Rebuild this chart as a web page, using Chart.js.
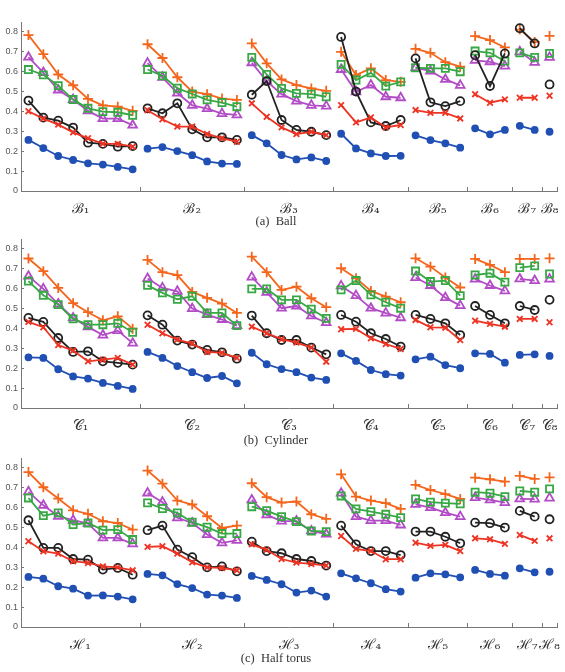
<!DOCTYPE html>
<html>
<head>
<meta charset="utf-8">
<script src="https://cdn.jsdelivr.net/npm/chart.js@4.4.1/dist/chart.umd.min.js"></script>
<style>
  html, body { margin: 0; padding: 0; background: #fff; }
  #page { position: relative; width: 565px; height: 672px; overflow: hidden; }
  .panel { position: absolute; left: 0; }
  .caption {
    position: absolute; left: 176px; width: 200px; text-align: center;
    font: 12.5px "Liberation Serif", serif; color: #333;
  }
</style>
</head>
<body>
<div id="page">
  <canvas id="ball" class="panel" width="565" height="205" style="top:10px"></canvas>
  <div class="caption" style="top:214px">(a)&nbsp;&nbsp;Ball</div>
  <canvas id="cylinder" class="panel" width="565" height="205" style="top:227px"></canvas>
  <div class="caption" style="top:433px">(b)&nbsp;&nbsp;Cylinder</div>
  <canvas id="torus" class="panel" width="565" height="205" style="top:446px"></canvas>
  <div class="caption" style="top:651px">(c)&nbsp;&nbsp;Half torus</div>
</div>
<script>
const groupSizes = [8, 7, 6, 5, 4, 3, 2, 1];
const yTicks = [0, 0.1, 0.2, 0.3, 0.4, 0.5, 0.6, 0.7, 0.8];

const ballLabels = ["ℬ₁", "ℬ₂", "ℬ₃", "ℬ₄", "ℬ₅", "ℬ₆", "ℬ₇", "ℬ₈"];
const cylinderLabels = ["𝒞₁", "𝒞₂", "𝒞₃", "𝒞₄", "𝒞₅", "𝒞₆", "𝒞₇", "𝒞₈"];
const torusLabels = ["ℋ₁", "ℋ₂", "ℋ₃", "ℋ₄", "ℋ₅", "ℋ₆", "ℋ₇", "ℋ₈"];

// (a) Ball
const ballPlus = [
  [0.784, 0.688, 0.586, 0.532, 0.463, 0.431, 0.424, 0.403],
  [0.738, 0.669, 0.572, 0.500, 0.487, 0.465, 0.458],
  [0.742, 0.642, 0.561, 0.533, 0.516, 0.504],
  [0.700, 0.583, 0.617, 0.558, 0.549],
  [0.715, 0.695, 0.648, 0.625],
  [0.779, 0.759, 0.722],
  [0.812, 0.750],
  [0.780],
];
const ballTriangle = [
  [0.673, 0.596, 0.508, 0.460, 0.403, 0.364, 0.364, 0.331],
  [0.643, 0.572, 0.492, 0.431, 0.414, 0.389, 0.383],
  [0.645, 0.553, 0.487, 0.452, 0.431, 0.427],
  [0.611, 0.499, 0.533, 0.474, 0.469],
  [0.620, 0.603, 0.561, 0.531],
  [0.657, 0.650, 0.628],
  [0.700, 0.647],
  [0.672],
];
const ballSquare = [
  [0.611, 0.584, 0.530, 0.460, 0.416, 0.399, 0.396, 0.381],
  [0.611, 0.579, 0.517, 0.488, 0.458, 0.445, 0.424],
  [0.672, 0.586, 0.516, 0.491, 0.487, 0.474],
  [0.637, 0.558, 0.594, 0.528, 0.549],
  [0.620, 0.617, 0.617, 0.600],
  [0.704, 0.695, 0.653],
  [0.695, 0.672],
  [0.692],
];
const ballCircle = [
  [0.455, 0.369, 0.354, 0.319, 0.243, 0.237, 0.223, 0.226],
  [0.416, 0.391, 0.441, 0.310, 0.270, 0.270, 0.257],
  [0.484, 0.553, 0.357, 0.307, 0.298, 0.281],
  [0.775, 0.500, 0.345, 0.327, 0.357],
  [0.667, 0.446, 0.427, 0.452],
  [0.683, 0.528, 0.692],
  [0.819, 0.742],
  [0.536],
];
const ballCross = [
  [0.401, 0.364, 0.334, 0.295, 0.265, 0.238, 0.237, 0.223],
  [0.406, 0.361, 0.324, 0.324, 0.287, 0.265, 0.248],
  [0.441, 0.373, 0.320, 0.286, 0.298, 0.281],
  [0.432, 0.345, 0.370, 0.320, 0.332],
  [0.407, 0.393, 0.393, 0.365],
  [0.487, 0.444, 0.461],
  [0.469, 0.469],
  [0.479],
];
const ballDot = [
  [0.257, 0.216, 0.176, 0.156, 0.139, 0.133, 0.121, 0.109],
  [0.213, 0.221, 0.201, 0.180, 0.149, 0.138, 0.136],
  [0.281, 0.240, 0.181, 0.159, 0.169, 0.151],
  [0.288, 0.214, 0.189, 0.176, 0.177],
  [0.280, 0.256, 0.240, 0.218],
  [0.315, 0.285, 0.307],
  [0.328, 0.307],
  [0.298],
];

// (b) Cylinder
const cylPlus = [
  [0.752, 0.688, 0.604, 0.527, 0.482, 0.441, 0.461, 0.399],
  [0.745, 0.683, 0.668, 0.584, 0.554, 0.525, 0.478],
  [0.761, 0.683, 0.594, 0.610, 0.552, 0.507],
  [0.703, 0.653, 0.589, 0.560, 0.532],
  [0.753, 0.711, 0.656, 0.606],
  [0.750, 0.720, 0.683],
  [0.750, 0.750],
  [0.753],
];
const cylTriangle = [
  [0.663, 0.599, 0.523, 0.453, 0.408, 0.367, 0.389, 0.326],
  [0.651, 0.604, 0.587, 0.500, 0.470, 0.445, 0.414],
  [0.658, 0.582, 0.502, 0.513, 0.463, 0.429],
  [0.614, 0.565, 0.502, 0.477, 0.454],
  [0.656, 0.616, 0.555, 0.515],
  [0.648, 0.616, 0.589],
  [0.649, 0.641],
  [0.648],
];
const cylSquare = [
  [0.638, 0.567, 0.520, 0.448, 0.419, 0.419, 0.426, 0.381],
  [0.617, 0.579, 0.547, 0.562, 0.478, 0.478, 0.414],
  [0.599, 0.599, 0.544, 0.544, 0.497, 0.451],
  [0.594, 0.641, 0.569, 0.532, 0.502],
  [0.689, 0.636, 0.641, 0.565],
  [0.669, 0.678, 0.633],
  [0.706, 0.715],
  [0.674],
];
const cylCircle = [
  [0.453, 0.433, 0.352, 0.282, 0.285, 0.235, 0.227, 0.218],
  [0.466, 0.419, 0.339, 0.319, 0.292, 0.280, 0.248],
  [0.465, 0.376, 0.342, 0.342, 0.304, 0.270],
  [0.468, 0.434, 0.376, 0.347, 0.309],
  [0.468, 0.448, 0.426, 0.367],
  [0.513, 0.468, 0.426],
  [0.513, 0.493],
  [0.544],
];
const cylCross = [
  [0.433, 0.406, 0.317, 0.289, 0.235, 0.243, 0.252, 0.218],
  [0.419, 0.376, 0.344, 0.324, 0.282, 0.277, 0.252],
  [0.409, 0.376, 0.346, 0.329, 0.304, 0.233],
  [0.396, 0.398, 0.351, 0.322, 0.297],
  [0.443, 0.406, 0.404, 0.342],
  [0.439, 0.423, 0.409],
  [0.448, 0.448],
  [0.431],
];
const cylDot = [
  [0.255, 0.252, 0.195, 0.159, 0.148, 0.126, 0.111, 0.096],
  [0.282, 0.252, 0.211, 0.180, 0.151, 0.161, 0.124],
  [0.278, 0.220, 0.196, 0.180, 0.153, 0.141],
  [0.275, 0.237, 0.191, 0.170, 0.163],
  [0.245, 0.258, 0.216, 0.200],
  [0.275, 0.272, 0.228],
  [0.267, 0.270],
  [0.262],
];

// (c) Half torus
const torusPlus = [
  [0.779, 0.703, 0.646, 0.587, 0.569, 0.532, 0.523, 0.490],
  [0.787, 0.721, 0.636, 0.616, 0.557, 0.498, 0.510],
  [0.723, 0.653, 0.626, 0.631, 0.567, 0.544],
  [0.768, 0.656, 0.636, 0.623, 0.594],
  [0.715, 0.689, 0.668, 0.644],
  [0.751, 0.743, 0.731],
  [0.760, 0.745],
  [0.753],
];
const torusTriangle = [
  [0.680, 0.612, 0.557, 0.537, 0.520, 0.448, 0.448, 0.418],
  [0.674, 0.628, 0.549, 0.523, 0.465, 0.423, 0.436],
  [0.639, 0.564, 0.533, 0.533, 0.483, 0.467],
  [0.673, 0.555, 0.535, 0.535, 0.513],
  [0.617, 0.600, 0.575, 0.555],
  [0.651, 0.639, 0.626],
  [0.644, 0.643],
  [0.648],
];
const torusSquare = [
  [0.649, 0.560, 0.574, 0.515, 0.523, 0.487, 0.490, 0.440],
  [0.624, 0.596, 0.574, 0.527, 0.502, 0.470, 0.470],
  [0.605, 0.585, 0.555, 0.530, 0.483, 0.480],
  [0.659, 0.594, 0.580, 0.567, 0.550],
  [0.644, 0.628, 0.623, 0.619],
  [0.678, 0.673, 0.656],
  [0.684, 0.678],
  [0.695],
];
const torusCircle = [
  [0.537, 0.398, 0.398, 0.342, 0.339, 0.289, 0.297, 0.263],
  [0.487, 0.510, 0.389, 0.351, 0.300, 0.305, 0.280],
  [0.429, 0.382, 0.371, 0.342, 0.332, 0.309],
  [0.510, 0.416, 0.382, 0.382, 0.362],
  [0.480, 0.480, 0.454, 0.421],
  [0.525, 0.522, 0.500],
  [0.584, 0.555],
  [0.542],
];
const torusCross = [
  [0.431, 0.381, 0.369, 0.331, 0.322, 0.305, 0.300, 0.285],
  [0.403, 0.406, 0.369, 0.326, 0.300, 0.297, 0.285],
  [0.416, 0.388, 0.342, 0.324, 0.317, 0.309],
  [0.458, 0.393, 0.382, 0.341, 0.341],
  [0.424, 0.408, 0.413, 0.382],
  [0.446, 0.441, 0.418],
  [0.463, 0.433],
  [0.446],
];
const torusDot = [
  [0.252, 0.243, 0.205, 0.193, 0.158, 0.159, 0.153, 0.139],
  [0.267, 0.260, 0.216, 0.196, 0.163, 0.158, 0.146],
  [0.257, 0.237, 0.215, 0.173, 0.183, 0.153],
  [0.270, 0.245, 0.220, 0.190, 0.178],
  [0.248, 0.270, 0.265, 0.250],
  [0.287, 0.267, 0.258],
  [0.295, 0.275],
  [0.278],
];

// first dataset is drawn on top
const seriesStyles = [
  { color: "#2150b4", pointStyle: "circle", radius: 3, fill: true },
  { color: "#ee3322", pointStyle: "crossRot", radius: 4 },
  { color: "#222222", pointStyle: "circle", radius: 4 },
  { color: "#38a845", pointStyle: "rect", radius: 5 },
  { color: "#b24cc6", pointStyle: "triangle", radius: 5 },
  { color: "#f4661c", pointStyle: "cross", radius: 5 },
];

const boundaries = [0];
groupSizes.forEach((n) => boundaries.push(boundaries[boundaries.length - 1] + n));
const centers = groupSizes.map((n, g) => boundaries[g] + n / 2);

function toPoints(groups) {
  const pts = [];
  groups.forEach((vals, g) => {
    if (g > 0) pts.push({ x: boundaries[g], y: null });
    vals.forEach((v, i) => pts.push({ x: boundaries[g] + i + 0.5, y: v }));
  });
  return pts;
}

function makeChart(id, labels, series) {
  const datasets = series.map((groups, k) => {
    const s = seriesStyles[k];
    return {
      data: toPoints(groups),
      borderColor: s.color,
      borderWidth: 1.8,
      pointStyle: s.pointStyle,
      pointRadius: s.radius,
      pointBorderColor: s.color,
      pointBackgroundColor: s.fill ? s.color : "rgba(255,255,255,0)",
      pointBorderWidth: 1.8,
      spanGaps: false,
      tension: 0,
    };
  });

  new Chart(document.getElementById(id), {
    type: "line",
    data: { datasets },
    options: {
      responsive: false,
      animation: false,
      layout: { padding: { top: 12, right: 8, left: 0, bottom: 0 } },
      plugins: { legend: { display: false }, tooltip: { enabled: false } },
      scales: {
        x: {
          type: "linear",
          position: "bottom",
          min: 0,
          max: 36,
          afterBuildTicks: (scale) => {
            scale.ticks = boundaries.slice(1).map((v) => ({ value: v }));
          },
          afterFit: (scale) => { scale.height = 0; },
          ticks: { display: false },
          grid: { drawOnChartArea: false, drawTicks: true, tickLength: -4, tickColor: "#777", color: "#777" },
          border: { color: "#777", width: 1 },
        },
        xl: {
          type: "linear",
          position: "bottom",
          min: 0,
          max: 36,
          afterBuildTicks: (scale) => {
            scale.ticks = centers.map((v) => ({ value: v }));
          },
          afterFit: (scale) => { scale.height = 24; },
          ticks: {
            autoSkip: false,
            maxRotation: 0,
            padding: 2,
            color: "#333",
            font: { family: "DejaVu Serif", size: 14 },
            callback: (v, i) => labels[i],
          },
          grid: { display: false },
          border: { display: false },
        },
        y: {
          min: 0,
          max: 0.85,
          afterBuildTicks: (scale) => {
            scale.ticks = yTicks.map((v) => ({ value: v }));
          },
          afterFit: (scale) => { scale.width = 21; },
          ticks: {
            padding: 6,
            color: "#555",
            font: { family: "Liberation Sans", size: 9 },
            callback: (v) => (v === 0 ? "0" : v.toFixed(1)),
          },
          grid: { drawOnChartArea: false, drawTicks: true, tickLength: -3, tickColor: "#777", color: "#777" },
          border: { color: "#777", width: 1 },
        },
      },
    },
  });
}

makeChart("ball", ballLabels, [ballDot, ballCross, ballCircle, ballSquare, ballTriangle, ballPlus]);
makeChart("cylinder", cylinderLabels, [cylDot, cylCross, cylCircle, cylSquare, cylTriangle, cylPlus]);
makeChart("torus", torusLabels, [torusDot, torusCross, torusCircle, torusSquare, torusTriangle, torusPlus]);
</script>
</body>
</html>
